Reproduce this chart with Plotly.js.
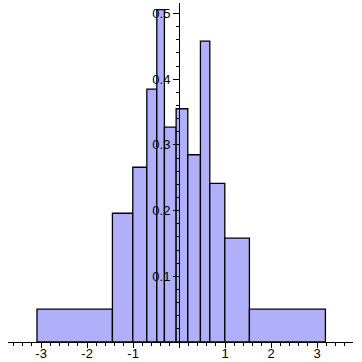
<!DOCTYPE html>
<html>
<head>
<meta charset="utf-8">
<script src="https://cdn.plot.ly/plotly-3.0.1.min.js"></script>
<style>html,body{margin:0;padding:0;background:#fff;}#chart{width:362px;height:362px;}</style>
</head>
<body>
<div id="chart"></div>
<script>
// Bin edges (variable-width histogram) and bar heights
const binEdges = [-3.09, -1.45, -1.007, -0.702, -0.485, -0.32, -0.065, 0.189, 0.463, 0.667, 0.993, 1.528, 3.18];
const barHeights = [0.050, 0.196, 0.266, 0.385, 0.506, 0.327, 0.355, 0.285, 0.458, 0.2415, 0.158, 0.050];
const xTickVals = [-3, -2, -1, 0, 1, 2, 3];
const xTickText = ["-3", "-2", "-1", "", "1", "2", "3"];
const yTickVals = [0.1, 0.2, 0.3, 0.4, 0.5];
const yTickText = ["0.1", "0.2", "0.3", "0.4", "0.5"];

const centers = barHeights.map((_, i) => (binEdges[i] + binEdges[i + 1]) / 2);
const widths = barHeights.map((_, i) => binEdges[i + 1] - binEdges[i]);

const trace = {
  type: 'bar',
  x: centers,
  y: barHeights,
  width: widths,
  marker: {color: 'rgb(176,176,250)', line: {color: 'black', width: 1.3}},
  hoverinfo: 'skip'
};

const layout = {
  width: 362, height: 362,
  margin: {l: 8, r: 9, t: 3, b: 20, pad: 0},
  paper_bgcolor: 'white', plot_bgcolor: 'white',
  showlegend: false,
  font: {family: 'Liberation Sans, Arial, sans-serif', size: 12, color: 'black'},
  xaxis: {
    range: [-3.72, 3.78], showgrid: false, zeroline: false,
    showline: true, linecolor: 'black', linewidth: 1,
    tickmode: 'array', tickvals: xTickVals, ticktext: xTickText,
    ticks: 'outside', ticklen: 5, tickwidth: 1, tickcolor: 'black',
    tickfont: {size: 13}, ticklabelstandoff: -6,
    minor: {tickmode: 'linear', tick0: 0, dtick: 0.2, ticks: 'outside', ticklen: 3, tickcolor: 'black', tickwidth: 1, showgrid: false},
    fixedrange: true, automargin: false
  },
  yaxis: {
    range: [0, 0.516], showgrid: false, zeroline: false,
    anchor: 'free', position: 171 / 345,
    showline: true, linecolor: 'black', linewidth: 1,
    tickmode: 'array', tickvals: yTickVals, ticktext: yTickText,
    ticks: 'outside', ticklen: 6, tickwidth: 1, tickcolor: 'black',
    tickfont: {size: 13},
    minor: {tickmode: 'linear', tick0: 0, dtick: 0.02, ticks: 'outside', ticklen: 3, tickcolor: 'black', tickwidth: 1, showgrid: false},
    fixedrange: true, automargin: false
  }
};

Plotly.newPlot('chart', [trace], layout, {displayModeBar: false, staticPlot: true});
</script>
</body>
</html>
